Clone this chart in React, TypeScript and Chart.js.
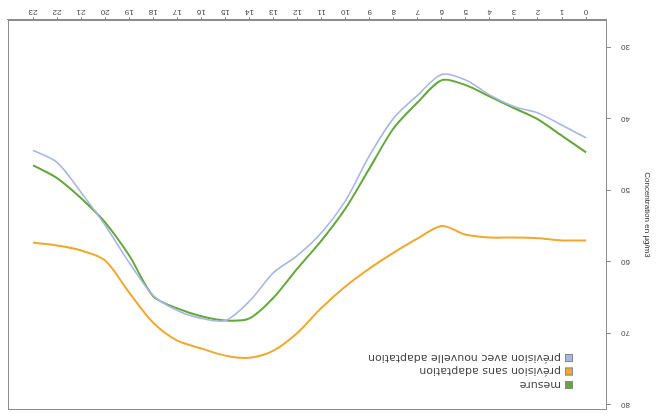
import React, { useEffect, useRef } from "react";
import { Chart, registerables } from "chart.js";

Chart.register(...registerables);

const hours = [0, 1, 2, 3, 4, 5, 6, 7, 8, 9, 10, 11, 12, 13, 14, 15, 16, 17, 18, 19, 20, 21, 22, 23];
const yTicks = [30, 40, 50, 60, 70, 80];

const mesure = [44.7, 42.4, 40.1, 38.5, 36.9, 35.3, 34.6, 37.7, 41.3, 46.9, 52.5, 57.0, 60.9, 65.0, 67.9, 68.2, 67.6, 66.5, 64.8, 59.1, 54.5, 51.1, 48.3, 46.5];
const sansAdaptation = [57.0, 57.0, 56.7, 56.6, 56.6, 56.2, 55.0, 56.7, 58.7, 60.9, 63.4, 66.4, 69.9, 72.4, 73.4, 73.1, 72.1, 71.0, 68.5, 64.3, 59.8, 58.4, 57.7, 57.3];
const avecAdaptation = [42.7, 40.9, 39.2, 38.3, 36.7, 34.6, 33.8, 36.7, 39.9, 45.1, 51.4, 55.9, 59.1, 61.5, 65.5, 68.2, 67.9, 66.8, 64.7, 60.1, 54.9, 50.3, 46.1, 44.4];

const seriesNames = ["mesure", "prévision sans adaptation", "prévision avec nouvelle adaptation"];
const seriesColors = ["#62a83a", "#f0a830", "#a8b6e6"];

export default function App() {
  const ref = useRef<HTMLCanvasElement | null>(null);

  useEffect(() => {
    if (!ref.current) return;
    const toPts = (arr: number[]) => arr.map((v, i) => ({ x: hours[i], y: v }));

    const frame = {
      id: "frame",
      afterDatasetsDraw(chart: any) {
        const { ctx, chartArea } = chart;
        const { left, top, right, bottom } = chartArea;
        ctx.save();
        ctx.strokeStyle = "#8c8c8c";
        ctx.lineWidth = 1;
        ctx.strokeRect(left + 0.5, top + 0.5, right - left - 1, bottom - top - 1);
        // legend
        ctx.font = "11px 'DejaVu Sans', sans-serif";
        ctx.textBaseline = "middle";
        ctx.textAlign = "left";
        seriesNames.forEach((name, i) => {
          const bx = left + 34;
          const by = top + 25 + i * 13.5;
          ctx.fillStyle = seriesColors[i];
          ctx.fillRect(bx, by - 4, 8, 8);
          ctx.strokeStyle = "#888";
          ctx.strokeRect(bx + 0.5, by - 3.5, 7, 7);
          ctx.fillStyle = "#444";
          ctx.fillText(name, bx + 12, by + 0.5);
        });
        ctx.restore();
      },
    };

    const chart = new Chart(ref.current, {
      type: "line",
      data: {
        datasets: [
          {
            label: seriesNames[2],
            data: toPts(avecAdaptation),
            borderColor: seriesColors[2],
            borderWidth: 1.6,
            pointRadius: 0,
            tension: 0.3,
          },
          {
            label: seriesNames[1],
            data: toPts(sansAdaptation),
            borderColor: seriesColors[1],
            borderWidth: 2,
            pointRadius: 0,
            tension: 0.3,
          },
          {
            label: seriesNames[0],
            data: toPts(mesure),
            borderColor: seriesColors[0],
            borderWidth: 2,
            pointRadius: 0,
            tension: 0.3,
          },
        ],
      },
      options: {
        responsive: false,
        animation: false,
        layout: { padding: { top: 4, right: 8, left: 0, bottom: 0 } },
        plugins: { legend: { display: false }, tooltip: { enabled: false } },
        scales: {
          x: {
            type: "linear",
            min: -0.87,
            max: 24.04,
            afterBuildTicks: (s: any) => {
              s.ticks = hours.map((h) => ({ value: h }));
            },
            afterFit: (s: any) => {
              s.height = 20;
              s.paddingLeft = 0;
              s.paddingRight = 0;
            },
            ticks: {
              autoSkip: false,
              maxRotation: 0,
              padding: 0,
              color: "#444",
              font: { size: 8, family: "Arial, 'Liberation Sans', sans-serif" },
              callback: (v: any) => String(v),
            },
            grid: { drawOnChartArea: false, drawTicks: true, tickLength: 3, color: "#8c8c8c" },
            border: { display: true, color: "#8c8c8c" },
          },
          y: {
            type: "linear",
            min: 26.2,
            max: 80.7,
            afterBuildTicks: (s: any) => {
              s.ticks = yTicks.map((v) => ({ value: v }));
            },
            afterFit: (s: any) => {
              s.width = 51;
              s.paddingTop = 0;
              s.paddingBottom = 0;
            },
            ticks: {
              color: "#444",
              padding: 10,
              font: { size: 8, family: "Arial, 'Liberation Sans', sans-serif" },
            },
            grid: { drawOnChartArea: false, drawTicks: true, tickLength: 4, color: "#8c8c8c" },
            border: { display: true, color: "#8c8c8c" },
            title: {
              display: true,
              text: "Concentration en µg/m3",
              color: "#333",
              padding: { top: 6, bottom: 0 },
              font: { size: 8, family: "Arial, 'Liberation Sans', sans-serif" },
            },
          },
        },
      },
      plugins: [frame],
    } as any);

    return () => chart.destroy();
  }, []);

  return (
    <div
      style={{
        position: "fixed",
        left: 0,
        top: 0,
        width: 658,
        height: 414,
        background: "#fff",
        transform: "rotate(180deg)",
      }}
    >
      <canvas ref={ref} width={658} height={414} style={{ display: "block" }} />
    </div>
  );
}
